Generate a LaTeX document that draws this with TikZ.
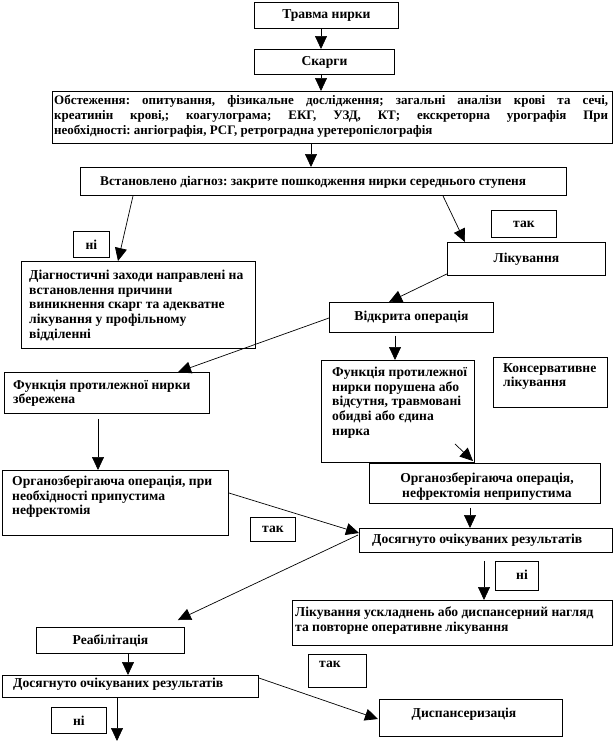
\documentclass[tikz,border=0pt]{standalone}
\usepackage{fontspec}
\setmainfont{Liberation Serif}
\usetikzlibrary{arrows.meta,calc}
\newcommand\bx[6]{\node[box, minimum width=#4pt, minimum height=#5pt] (#1) at (#2,#3) {#6};}
\frenchspacing
\begin{document}
\begin{tikzpicture}[x=1pt,y=-1pt,
  box/.style={draw=black, line width=0.9pt, inner sep=0pt, anchor=north west, font=\bfseries\fontsize{13.6}{14.6}\selectfont},
  txt/.style={inner sep=0pt, font=\bfseries\fontsize{13.6}{14.6}\selectfont, align=left, anchor=north west, execute at begin node={\frenchspacing\rule{0pt}{10.5pt}}},
  txtone/.style={inner sep=0pt, font=\bfseries\fontsize{13.6}{14.6}\selectfont, anchor=base west},
  arr/.style={line width=0.7pt, -{Triangle[width=12pt,length=13pt]}},
]
\fill[white] (0,0) rectangle (613,742);
\useasboundingbox (0,0) rectangle (613,742);

\bx{b1}{254}{2}{144}{26}{Травма нирки}
\bx{b2}{254}{49}{140}{25}{Скарги}
\bx{b3}{52}{91}{560}{52}{}
\node[txt, font=\bfseries\fontsize{13}{15}\selectfont] (b3t) at (54,95) {\makebox[554pt][s]{Обстеження: опитування, фізикальне дослідження; загальні аналізи крові та сечі,}\\\makebox[554pt][s]{креатинін крові,; коагулограма; ЕКГ, УЗД, КТ; екскреторна урографія При}\\необхідності: ангіографія, РСГ, ретроградна уретеропієлографія};
\bx{b4}{80}{167}{486}{28}{}
\node[txtone, font=\bfseries\fontsize{13.3}{14.6}\selectfont] (b4t) at (100,185) {Встановлено діагноз: закрите пошкодження нирки середнього ступеня};
\bx{n1}{73}{231}{36}{26}{ні}
\bx{b5}{21}{261}{234}{87}{}
\node[txt] (b5t) at (29,270) {Діагностичні заходи направлені на\\встановлення причини\\виникнення скарг та адекватне\\лікування у профільному\\відділенні};
\bx{t1}{491}{210}{65}{27}{так}
\bx{b6}{447}{242}{158}{33}{Лікування}
\bx{b7}{329}{302}{164}{30}{Відкрита операція}
\bx{b8}{4}{372}{205}{41}{}
\node[txt] (b8t) at (13,379.5) {Функція протилежної нирки\\збережена};
\bx{b9}{321}{360}{153}{102}{}
\node[txt] (b9t) at (332,367) {Функція протилежної\\нирки порушена або\\відсутня, травмовані\\обидві або єдина\\нирка};
\bx{b10}{493}{357}{114}{50}{}
\node[txt] (b10t) at (503,363) {Консервативне\\лікування};
\bx{b11}{369}{463}{231}{40}{}
\node[txt, align=center, anchor=north] (b11t) at (487,473) {Органозберігаюча операція,\\нефректомія неприпустима};
\bx{b12}{2}{470}{226}{65}{}
\node[txt] (b12t) at (12,475.5) {Органозберігаюча операція, при\\необхідності припустима\\нефректомія};
\bx{t2}{250}{517}{45}{24}{так}
\bx{b13}{359}{528}{253}{24}{}
\node[txtone] (b13t) at (372,543.5) {Досягнуто очікуваних результатів};
\bx{n2}{495}{561}{43}{29}{}
\node[txtone, anchor=base] (n2t) at (522,579) {ні};
\bx{b14}{292}{600}{320}{45}{}
\node[txt] (b14t) at (295,606.5) {Лікування ускладнень або диспансерний нагляд\\та повторне оперативне лікування};
\bx{b15}{36}{627}{148}{26}{Реабілітація}
\bx{b16}{2}{675}{256}{22}{}
\node[txtone] (b16t) at (13,687) {Досягнуто очікуваних результатів};
\bx{t3}{308}{654}{58}{33}{}
\node[txtone] (t3t) at (319,667) {так};
\bx{b17}{379}{699}{183}{37}{}
\node[txtone, anchor=base] (b17t) at (464,717) {Диспансеризація};
\bx{n3}{51}{707}{55}{26}{ні}
\coordinate (e17) at (117,741);

\draw[arr] ($(b1.south west)+(67,0)$) -- ($(b2.north west)+(67,0)$);
\draw[arr] ($(b2.south west)+(67,0)$) -- ($(b3.north west)+(269,0)$);
\draw[arr] ($(b3.south west)+(259,0)$) -- ($(b4.north west)+(231,0)$);
\draw[arr] ($(b4.south west)+(53,0)$) -- ($(b5.north west)+(97,0)$);
\draw[arr] ($(b4.south west)+(363,0)$) -- ($(b6.north west)+(18,0)$);
\draw[arr] ($(b6.south west)+(0,-2)$) -- ($(b7.north west)+(60,0)$);
\draw[arr] ($(b7.north west)+(0,16)$) -- ($(b8.north west)+(174,0)$);
\draw[arr] ($(b7.south west)+(66,3)$) -- ($(b9.north west)+(74,0)$);
\draw[arr] ($(b9.south east)+(-20,-19)$) -- ($(b11.north west)+(104,-2)$);
\draw[arr] ($(b8.south west)+(94,5)$) -- ($(b12.north west)+(96,0)$);
\draw[arr] ($(b11.south west)+(101,4)$) -- ($(b13.north west)+(111,0)$);
\draw[arr] ($(b12.north east)+(0,23)$) -- ($(b13.north west)+(0,5)$);
\draw[arr] ($(b13.north west)+(-1,7)$) -- ($(b15.north east)+(-7,-7)$);
\draw[arr] ($(b13.south west)+(125,8)$) -- ($(b14.north west)+(192,0)$);
\draw[arr] ($(b15.south west)+(92,0)$) -- ($(b16.north west)+(126,0)$);
\draw[arr] ($(b16.north east)+(0,3)$) -- ($(b17.north west)+(-1,20)$);
\draw[arr] ($(b16.south west)+(115,0)$) -- (e17);
\end{tikzpicture}
\end{document}
